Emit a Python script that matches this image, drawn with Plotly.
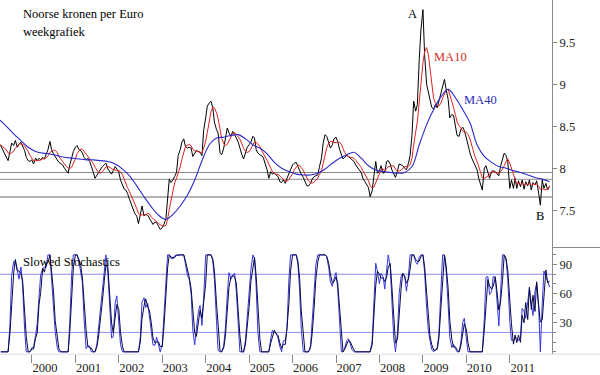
import pandas as pd
import plotly.graph_objects as go

# Weekly chart NOK per EUR, values read at half-month steps from 1999-04-01
price = [
    8.28, 8.27, 8.22, 8.18, 8.15, 8.09, 8.20, 8.30, 8.27, 8.33,
    8.25, 8.29, 8.31, 8.26, 8.21, 8.13, 8.09, 8.08, 8.10, 8.05,
    8.12, 8.09, 8.12, 8.10, 8.13, 8.11, 8.16, 8.22, 8.32, 8.22,
    8.17, 8.13, 8.10, 8.07, 8.05, 8.04, 8.00, 7.97, 7.94, 8.04,
    8.12, 8.20, 8.25, 8.27, 8.22, 8.21, 8.18, 8.13, 8.10, 8.12,
    8.08, 8.03, 7.95, 7.88, 7.92, 7.96, 8.00, 8.02, 8.04, 8.06,
    7.99, 7.96, 7.93, 7.97, 8.02, 7.99, 7.95, 7.86, 7.79, 7.75,
    7.74, 7.70, 7.63, 7.57, 7.50, 7.46, 7.43, 7.34, 7.45, 7.55,
    7.43, 7.45, 7.44, 7.40, 7.37, 7.33, 7.36, 7.35, 7.31, 7.27,
    7.29, 7.33, 7.40, 7.66, 7.87, 7.83, 7.86, 7.90, 7.95, 8.15,
    8.22, 8.31, 8.35, 8.26, 8.24, 8.25, 8.24, 8.14, 8.17, 8.21,
    8.20, 8.19, 8.15, 8.45, 8.60, 8.74, 8.78, 8.80, 8.72, 8.55,
    8.46, 8.42, 8.18, 8.16, 8.24, 8.36, 8.48, 8.42, 8.38, 8.44,
    8.40, 8.36, 8.31, 8.23, 8.16, 8.11, 8.19, 8.25, 8.28, 8.31,
    8.38, 8.36, 8.22, 8.18, 8.16, 8.15, 8.12, 8.06, 7.98, 7.88,
    7.96, 7.93, 7.94, 7.92, 7.90, 7.84, 7.83, 7.86, 7.82, 7.88,
    7.94, 7.99, 8.04, 8.06, 8.07, 8.02, 7.97, 7.93, 7.89, 7.84,
    7.79, 7.79, 7.82, 7.87, 7.90, 7.91, 7.92, 8.02, 8.12, 8.30,
    8.40, 8.38, 8.29, 8.24, 8.28, 8.35, 8.37, 8.32, 8.22, 8.16,
    8.11, 8.13, 8.15, 8.14, 8.12, 8.10, 8.08, 8.04, 8.00, 7.98,
    7.95, 7.88, 7.84, 7.81, 7.77, 7.66, 7.73, 7.90, 8.08, 7.94,
    7.97, 8.03, 7.94, 7.95, 8.08, 8.09, 8.05, 7.98, 7.94, 7.89,
    7.97, 8.05, 8.04, 8.03, 8.00, 7.98, 8.06, 8.15, 8.40, 8.80,
    8.68, 8.76, 9.30, 9.65, 9.89, 9.35, 9.00, 8.90, 8.82, 8.73,
    8.70, 8.76, 8.72, 8.80, 8.90, 8.98, 9.06, 8.94, 8.82, 8.60,
    8.64, 8.63, 8.50, 8.39, 8.38, 8.46, 8.49, 8.45, 8.36, 8.26,
    8.18, 8.12, 8.08, 8.04, 7.98, 7.88, 7.80, 7.74, 8.00, 8.03,
    7.95, 7.88, 7.96, 7.97, 7.96, 7.93, 7.91, 8.02, 8.13, 8.18,
    8.15, 8.08, 7.76, 7.86, 7.76, 7.88, 7.76, 7.85, 7.78, 7.86,
    7.75, 7.84, 7.79, 7.86, 7.74, 7.83, 7.80, 7.85, 7.70, 7.56,
    7.86, 7.76, 7.82, 7.74, 7.78,
]

# MA40 read at two-month steps from 1999-04-01
ma40 = [
    8.58, 8.50, 8.41, 8.33, 8.25, 8.20, 8.18, 8.17, 8.15, 8.13,
    8.12, 8.11, 8.10, 8.10, 8.09, 8.08, 8.05, 7.99, 7.91, 7.79,
    7.66, 7.54, 7.44, 7.39, 7.45, 7.55, 7.68, 7.86, 8.09, 8.28,
    8.36, 8.37, 8.39, 8.40, 8.35, 8.28, 8.24, 8.17, 8.07, 8.00,
    7.96, 7.93, 7.92, 7.92, 7.94, 7.99, 8.06, 8.12, 8.16, 8.19,
    8.12, 8.03, 7.98, 7.96, 7.95, 7.94, 7.95, 8.02, 8.28, 8.52,
    8.70, 8.85, 8.94, 8.84, 8.70, 8.54, 8.28, 8.14, 8.07, 8.02,
    8.00, 7.97, 7.95, 7.92, 7.89, 7.87, 7.84,
]

price_levels = [7.949, 7.868, 7.656]
stoch_levels = [80, 20]
price_ticks = [7.5, 8, 8.5, 9, 9.5]
price_ticktext = ["7.5", "8", "8.5", "9", "9.5"]
stoch_ticks = [30, 60, 90]

FONT = "Liberation Serif"
FS = 12.5
W, H = 600, 375
PLOT_W = 551.7


def px(x):
    return x / PLOT_W


def py(y):
    return 1 - y / H


dates = pd.date_range("1999-04-01", periods=len(price), freq="SMS")
ma40_dates = pd.date_range("1999-04-01", periods=len(ma40), freq="2MS")
s = pd.Series(price, index=dates)
ma10 = s.rolling(5, min_periods=1).mean()
lo = s.rolling(8, min_periods=2).min()
hi = s.rolling(8, min_periods=2).max()
raw_k = 100 * (s - lo) / (hi - lo)
slow_k = raw_k.rolling(2, min_periods=1).mean()
slow_d = raw_k.rolling(3, min_periods=1).mean()

fig = go.Figure()
fig.add_trace(go.Scatter(x=dates, y=price, mode="lines",
                         line=dict(color="black", width=1), yaxis="y"))
fig.add_trace(go.Scatter(x=dates, y=ma10, mode="lines",
                         line=dict(color="#e02222", width=1), yaxis="y"))
fig.add_trace(go.Scatter(x=ma40_dates, y=ma40, mode="lines", line_shape="spline",
                         line=dict(color="#2a2ac8", width=1.1), yaxis="y"))
fig.add_trace(go.Scatter(x=dates, y=slow_k, mode="lines",
                         line=dict(color="#3535e0", width=1), yaxis="y2"))
fig.add_trace(go.Scatter(x=dates, y=slow_d, mode="lines",
                         line=dict(color="#0a0a40", width=1), yaxis="y2"))

shapes = []
for i, lv in enumerate(price_levels):
    shapes.append(dict(type="line", xref="paper", yref="y", x0=0, x1=1, y0=lv, y1=lv,
                       line=dict(color="#8a8a8a" if i < 2 else "#b4b4b4", width=1 if i < 2 else 2),
                       layer="below"))
for lv in stoch_levels:
    shapes.append(dict(type="line", xref="paper", yref="y2", x0=0, x1=1, y0=lv, y1=lv,
                       line=dict(color="#8c8cf5", width=1), layer="below"))
# separator on the axis side and bottom rule
shapes.append(dict(type="line", xref="paper", yref="paper", x0=1, x1=W / PLOT_W,
                   y0=py(249.5), y1=py(249.5), line=dict(color="#888888", width=1)))
shapes.append(dict(type="line", xref="paper", yref="paper", x0=0, x1=W / PLOT_W,
                   y0=py(357), y1=py(357), line=dict(color="#dcdcdc", width=1)))

ann = []


def text(t, x, y, color="black", xanchor="left"):
    ann.append(dict(text=t, x=px(x), y=py(y), xref="paper", yref="paper",
                    xanchor=xanchor, yanchor="middle", showarrow=False,
                    font=dict(family=FONT, size=FS, color=color)))


text("Noorse kronen per Euro", 21, 14)
text("weekgrafiek", 21, 32)
text("A", 412, 14, xanchor="center")
text("MA10", 432, 57, color="#d42a2a")
text("MA40", 462, 101, color="#2a2ab8")
text("B", 540, 218, xanchor="center")
text("Slowed Stochastics", 21, 264)

fig.update_layout(
    width=W, height=H,
    margin=dict(l=0, r=W - PLOT_W, t=0, b=0),
    paper_bgcolor="white", plot_bgcolor="white",
    showlegend=False,
    shapes=shapes, annotations=ann,
    font=dict(family=FONT, size=FS, color="#222"),
    xaxis=dict(type="date", range=["1999-04-08", "2011-12-22"], anchor="y2",
               tickformat="%Y", dtick="M12", tick0="2000-01-01",
               ticks="outside", ticklen=8, tickcolor="#888", tickwidth=1,
               showline=False, showgrid=False, zeroline=False,
               ticklabelshift=13, ticklabelstandoff=-6,
               tickfont=dict(family=FONT, size=FS, color="#222")),
    yaxis=dict(domain=[py(249), 1], range=[7.061, 10.005], anchor="x", side="right",
               tickvals=price_ticks, ticktext=price_ticktext,
               ticks="outside", ticklen=4, tickcolor="#888",
               showline=True, linecolor="#888", linewidth=1,
               showgrid=False, zeroline=False,
               tickfont=dict(family=FONT, size=FS, color="#222")),
    yaxis2=dict(domain=[py(357), py(250)], range=[-2.4, 107.1], anchor="x", side="right",
                tickvals=stoch_ticks, ticks="outside", ticklen=4, tickcolor="#888",
                minor=dict(tickmode="linear", tick0=0, dtick=10, ticks="outside",
                           ticklen=3, tickcolor="#888", showgrid=False),
                showline=True, linecolor="#888", linewidth=1,
                showgrid=False, zeroline=False,
                tickfont=dict(family=FONT, size=FS, color="#222")),
)

fig.write_html("out.html", config={"displayModeBar": False},
               post_script="document.body.style.margin='0';"
                           "document.body.style.overflow='hidden';")
